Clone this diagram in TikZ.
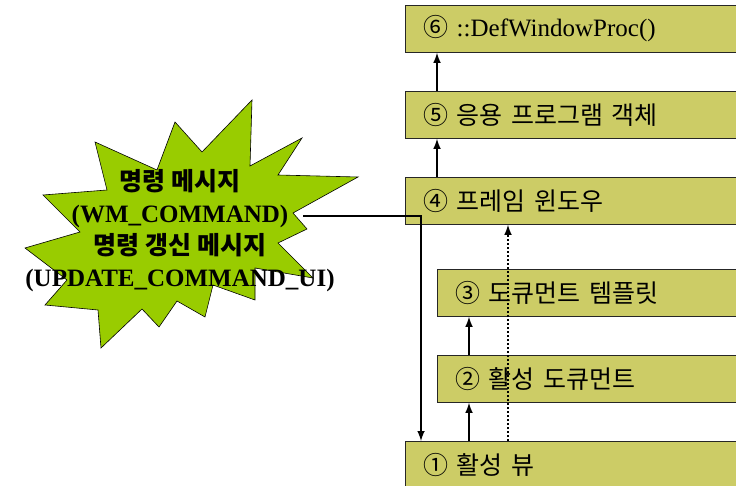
\documentclass[tikz,border=0pt]{standalone}
\usepackage{fontspec}
\setmainfont{Liberation Serif}
\newfontfamily\kr{Noto Sans CJK KR}
\usetikzlibrary{arrows}

\definecolor{boxfill}{RGB}{204,204,102}
\definecolor{stargreen}{RGB}{153,204,0}

\tikzset{
  handler/.style={draw=black!85, fill=boxfill, line width=0.8pt, anchor=north west,
    minimum height=47pt, text width=304pt, inner xsep=18pt, align=left,
    font=\fontsize{25}{28}\selectfont},
  flow/.style={-latex, line width=2.4pt},
}

\begin{document}
\begin{tikzpicture}[x=1pt, y=-1pt]
      \useasboundingbox (0,0) rectangle (736,486);
      \clip (0,0) rectangle (736,486);
      % message burst
      \filldraw[fill=stargreen, draw=black, line width=0.6pt]
        (252,100) -- (250,166) -- (302,138) -- (278,175) -- (358,177) -- (293,213)
        -- (307,229) -- (278,243) -- (313,278) -- (255,268) -- (255,300) -- (213,285)
        -- (205,317) -- (177,301) -- (159,327) -- (142,309) -- (101,348) -- (98,310)
        -- (45,305) -- (67,280) -- (25,248) -- (80,232) -- (43,195) -- (107,190)
        -- (95,142) -- (157,170) -- (175,122) -- (202,152) -- cycle;
      \node[align=center, font=\bfseries\fontsize{25}{32}\selectfont] (msg) at (180,231)
        {{\kr 명령 메시지}\\(WM\_COMMAND)\\{\kr 명령 갱신 메시지}\\(UPDATE\_COMMAND\_UI)};
      \coordinate (src) at (303,216);
      % handlers
      \node[handler] (def) at (405,5) {{\kr ⑥} ::DefWindowProc()};
      \node[handler] (app) at (405,91) {\kr ⑤ 응용 프로그램 객체};
      \node[handler] (frame) at (405,177) {\kr ④ 프레임 윈도우};
      \node[handler] (tmpl) at (437,269) {\kr ③ 도큐먼트 템플릿};
      \node[handler] (doc) at (437,355) {\kr ② 활성 도큐먼트};
      \node[handler] (view) at (405,441) {\kr ① 활성 뷰};
      % routing
      \draw[flow] ([xshift=32pt]app.north west) -- ([xshift=32pt]def.south west);
      \draw[flow] ([xshift=32pt]frame.north west) -- ([xshift=32pt]app.south west);
      \draw[flow] ([xshift=64pt]view.north west) -- ([xshift=32pt]doc.south west);
      \draw[flow] ([xshift=32pt]doc.north west) -- ([xshift=32pt]tmpl.south west);
      \draw[flow, dash pattern=on 2pt off 2pt] ([xshift=103pt]view.north west) -- ([xshift=103pt]frame.south west);
      \draw[flow] (src) -| ([xshift=16pt]view.north west);
    \end{tikzpicture}
\end{document}
